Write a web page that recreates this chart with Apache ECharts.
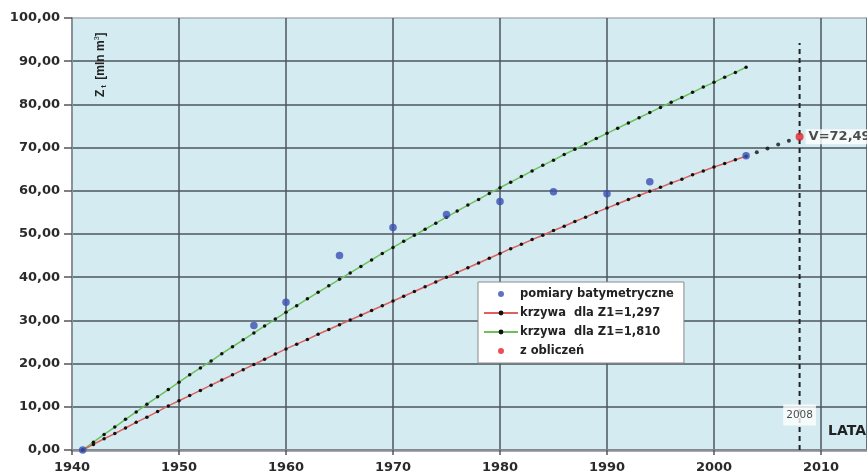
<!DOCTYPE html>
<html>
<head>
<meta charset="utf-8">
<script src="https://cdn.jsdelivr.net/npm/echarts@6/dist/echarts.min.js"></script>
<style>html,body{margin:0;padding:0;background:#fff}#c{width:867px;height:475px}</style>
</head>
<body>
<div id="c"></div>
<script>
// Years for the fitted curves
const curveYears = [1941,1942,1943,1944,1945,1946,1947,1948,1949,1950,1951,1952,1953,1954,1955,1956,1957,1958,1959,1960,1961,1962,1963,1964,1965,1966,1967,1968,1969,1970,1971,1972,1973,1974,1975,1976,1977,1978,1979,1980,1981,1982,1983,1984,1985,1986,1987,1988,1989,1990,1991,1992,1993,1994,1995,1996,1997,1998,1999,2000,2001,2002,2003];
// krzywa dla Z1=1,810 (green)
const greenCurve = [0,1.8,3.6,5.3,7.1,8.8,10.6,12.3,14.0,15.7,17.4,19.0,20.6,22.3,23.9,25.5,27.1,28.7,30.3,31.9,33.4,35.0,36.5,38.0,39.5,41.0,42.5,44.0,45.5,46.9,48.3,49.7,51.1,52.5,53.9,55.3,56.7,58.0,59.4,60.7,62.0,63.3,64.6,65.9,67.1,68.4,69.6,70.9,72.1,73.3,74.5,75.7,76.9,78.1,79.3,80.5,81.6,82.8,84.0,85.1,86.3,87.4,88.6];
// krzywa dla Z1=1,297 (red)
const redCurve = [0,1.3,2.6,3.8,5.1,6.4,7.6,8.9,10.2,11.4,12.6,13.8,15.0,16.2,17.4,18.6,19.8,21.0,22.2,23.4,24.5,25.6,26.8,27.9,29.0,30.1,31.2,32.3,33.4,34.5,35.6,36.7,37.8,38.9,40.0,41.1,42.2,43.3,44.4,45.5,46.6,47.6,48.7,49.7,50.8,51.8,52.9,53.9,55.0,56.0,57.0,58.0,58.9,59.9,60.8,61.8,62.7,63.7,64.6,65.5,66.3,67.2,68.0];
// Extension (dotted) of red curve
const extYears = [2004,2005,2006,2007];
const extValues = [68.9,69.8,70.7,71.6];
// pomiary batymetryczne
const measYears = [1941,1957,1960,1965,1970,1975,1980,1985,1990,1994,2003];
const measValues = [0,28.8,34.2,45.0,51.5,54.5,57.5,59.8,59.3,62.1,68.1];
// z obliczeń
const calcYear = 2008;
const calcValue = 72.49;
const calcLabel = 'V=72,49';
const markYearLabel = '2008';
const xLabel = 'LATA';
const seriesNames = ['pomiary batymetryczne','krzywa  dla Z1=1,297','krzywa  dla Z1=1,810','z obliczeń'];

const zip = (xs, ys) => xs.map((x, i) => [x, ys[i]]);
const FONT = '"Liberation Sans", Arial, sans-serif';
const WFONT = '"DejaVu Sans", sans-serif';

const chart = echarts.init(document.getElementById('c'));
chart.setOption({
  animation: false,
  backgroundColor: '#fff',
  grid: {
    left: 72, top: 18, right: 0, bottom: 25,
    show: true, backgroundColor: '#d3ebf1', borderColor: '#aab0b5', borderWidth: 1.5
  },
  xAxis: {
    type: 'value', min: 1940, max: 2014.3, interval: 10,
    axisLine: { show: true, onZero: false, lineStyle: { color: '#8a9096', width: 2.5 } },
    axisTick: { show: true, length: 5, lineStyle: { color: '#555', width: 1.5 } },
    axisLabel: { color: '#2a2a2a', fontFamily: WFONT, fontSize: 13, fontWeight: 'bold', margin: 11, showMaxLabel: false,
      formatter: v => String(v) },
    splitLine: { show: true, lineStyle: { color: '#4d565e', width: 1.5 } }
  },
  yAxis: {
    type: 'value', min: 0, max: 100, interval: 10,
    axisLine: { show: true, lineStyle: { color: '#8a9096', width: 2 } },
    axisTick: { show: true, length: 8, lineStyle: { color: '#555', width: 1.5 } },
    axisLabel: {
      color: '#2a2a2a', fontFamily: WFONT, fontSize: 13, fontWeight: 'bold', margin: 12,
      formatter: v => v.toFixed(2).replace('.', ',')
    },
    splitLine: { show: true, showMaxLine: false, lineStyle: { color: '#4d565e', width: 1.5 } }
  },
  legend: {
    data: seriesNames,
    orient: 'vertical', left: 478, top: 282,
    backgroundColor: '#fff', borderColor: '#8a8a8a', borderWidth: 1,
    padding: [5, 10, 5, 5], itemGap: 5, itemWidth: 34, itemHeight: 6,
    textStyle: { fontFamily: WFONT, fontSize: 11.5, fontWeight: 'bold', color: '#222', padding: [0,0,0,-3], lineHeight: 14 }
  },
  series: [
    {
      name: seriesNames[2], type: 'line', data: zip(curveYears, greenCurve),
      lineStyle: { color: '#6cc25a', width: 1.5 }, itemStyle: { color: '#111' },
      symbol: 'circle', symbolSize: 3.5, showAllSymbol: true, z: 3
    },
    {
      name: seriesNames[1], type: 'line', data: zip(curveYears, redCurve),
      lineStyle: { color: '#e0605e', width: 1.5 }, itemStyle: { color: '#111' },
      symbol: 'circle', symbolSize: 3.5, showAllSymbol: true, z: 3
    },
    {
      name: 'ext', type: 'scatter', data: zip(extYears, extValues),
      symbolSize: 4, itemStyle: { color: '#111' }, z: 3
    },
    {
      name: 'line2008', type: 'line', data: [[calcYear, 0], [calcYear, 94.2]],
      symbol: 'none', lineStyle: { color: '#222', width: 2, type: [5, 4] }, z: 2, silent: true
    },
    {
      name: 'lbl2008', type: 'scatter', data: [[calcYear, 8.1]], symbolSize: 0, z: 5,
      label: {
        show: true, position: 'inside', formatter: markYearLabel,
        fontFamily: WFONT, fontSize: 10.5, color: '#222', backgroundColor: '#fff', padding: [5, 3]
      }
    },
    {
      name: seriesNames[0], type: 'scatter', data: zip(measYears, measValues),
      symbolSize: 7.5, itemStyle: { color: '#3b4fb2' }, z: 4
    },
    {
      name: seriesNames[3], type: 'scatter', data: [[calcYear, calcValue]],
      symbolSize: 8, itemStyle: { color: '#e8222a' }, z: 6,
      label: {
        show: true, position: 'right', distance: 2, formatter: calcLabel,
        fontFamily: WFONT, fontSize: 13, fontWeight: 'bold', color: '#222',
        backgroundColor: '#fff', padding: [1, 3]
      }
    }
  ],
  graphic: [
    {
      type: 'text', x: 94, y: 97, rotation: Math.PI / 2, z: 10,
      style: {
        text: 'Z{s|t} [mln m{p|3}]',
        fontFamily: FONT, fontSize: 12, fontWeight: 'bold', fill: '#222',
        rich: {
          s: { fontFamily: FONT, fontSize: 8, fontWeight: 'bold', fill: '#222', verticalAlign: 'bottom', padding: [6,2,0,2] },
          p: { fontFamily: FONT, fontSize: 7, fill: '#222', verticalAlign: 'top', padding: [0,0,6,0] }
        }
      }
    },
    {
      type: 'text', left: 828, top: 424, z: 10,
      style: { text: xLabel, fontFamily: WFONT, fontSize: 14, fontWeight: 'bold', fill: '#222' }
    }
  ]
});
</script>
</body>
</html>
